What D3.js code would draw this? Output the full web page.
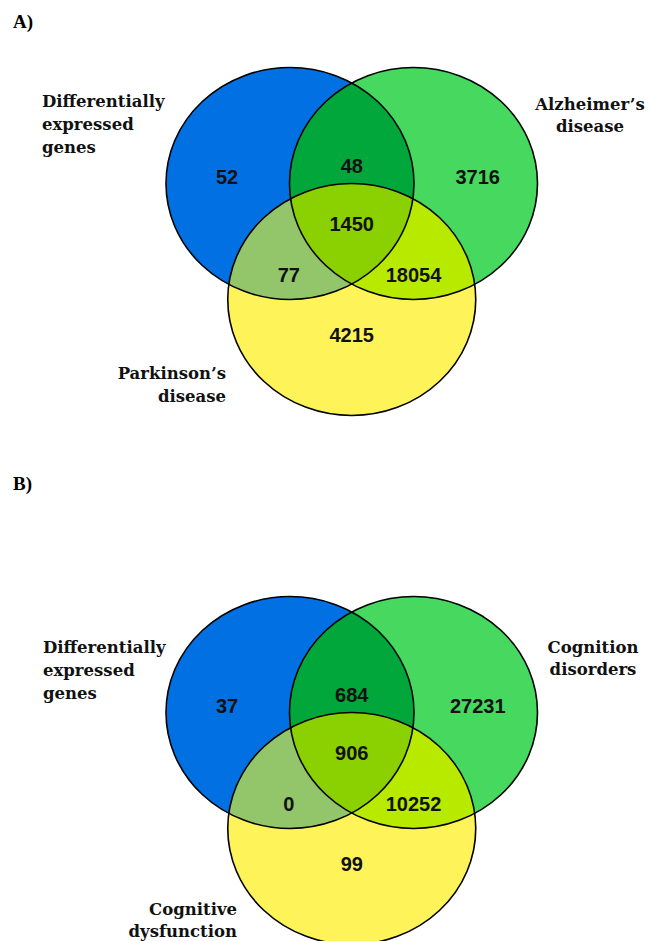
<!DOCTYPE html>
<html>
<head>
<meta charset="utf-8">
<script src="https://cdn.jsdelivr.net/npm/d3@7"></script>
<style>
  body { margin: 0; background: #fff; }
  svg { display: block; }
</style>
</head>
<body>
<svg id="chart"></svg>
<script>
// set names and region counts for both panels
const panelTitles = ["A)", "B)"];
const setNamesA = [["Differentially", "expressed", "genes"], ["Alzheimer’s", "disease"], ["Parkinson’s", "disease"]];
const setNamesB = [["Differentially", "expressed", "genes"], ["Cognition", "disorders"], ["Cognitive", "dysfunction"]];
// region order: only1, 1&2, only2, 1&2&3, 1&3, 2&3, only3
const regionKeys = ["1", "12", "2", "123", "13", "23", "3"];
const countsA = [52, 48, 3716, 1450, 77, 18054, 4215];
const countsB = [37, 684, 27231, 906, 0, 10252, 99];

const W = 649, H = 941;
const svg = d3.select("#chart").attr("width", W).attr("height", H);

// circle fills and overlap fills
const setColors = ["#0170e2", "#46d85f", "#fff35a"];
const overlapColors = { "12": "#01a73b", "13": "#93c56a", "23": "#b8ea00", "123": "#8bd000" };

// venn layout in unit space: centre of set i, and label spot for each region
const centres = [[0, 0], [1, 0], [0.5, 1]];
const spots = { "1": [-0.51, -0.056], "12": [0.5, -0.15], "2": [1.52, -0.056], "123": [0.5, 0.35],
                "13": [-0.01, 0.785], "23": [1.0, 0.785], "3": [0.5, 1.3] };

function drawPanel(g, id, title, titleY, cy, names, counts, labelPos) {
  const x = d3.scaleLinear().domain([0, 1]).range([290, 413.5]);
  const y = d3.scaleLinear().domain([0, 1]).range([cy, cy + 116]);
  const rx = 124, ry = 116;

  g.append("text")
    .attr("x", 13).attr("y", titleY)
    .text(title)
    .style("font-family", "Liberation Serif").style("font-weight", "bold").style("font-size", "19px");

  const defs = g.append("defs");
  centres.forEach((c, i) => {
    defs.append("clipPath").attr("id", `${id}c${i}`)
      .append("ellipse").attr("cx", x(c[0])).attr("cy", y(c[1])).attr("rx", rx).attr("ry", ry);
  });

  const ell = (sel, i) => sel.append("ellipse")
    .attr("cx", x(centres[i][0])).attr("cy", y(centres[i][1])).attr("rx", rx).attr("ry", ry);

  // full circles
  centres.forEach((c, i) => ell(g, i).attr("fill", setColors[i]));
  // pairwise overlaps
  [["12", 0, 1], ["13", 0, 2], ["23", 1, 2]].forEach(([k, a, b]) => {
    ell(g.append("g").attr("clip-path", `url(#${id}c${a})`), b).attr("fill", overlapColors[k]);
  });
  // triple overlap
  ell(g.append("g").attr("clip-path", `url(#${id}c0)`).append("g").attr("clip-path", `url(#${id}c1)`), 2)
    .attr("fill", overlapColors["123"]);
  // outlines
  centres.forEach((c, i) => ell(g, i).attr("fill", "none").attr("stroke", "#000").attr("stroke-width", 1.6));

  // counts
  g.selectAll(".count").data(regionKeys).enter().append("text")
    .attr("class", "count")
    .attr("x", k => x(spots[k][0]))
    .attr("y", k => y(spots[k][1]))
    .attr("dy", "0.36em")
    .attr("text-anchor", "middle")
    .text((k, i) => counts[i])
    .style("font-family", "Liberation Sans").style("font-weight", "bold").style("font-size", "20px")
    .style("fill", "#111");

  // set names
  names.forEach((lines, i) => {
    const p = labelPos[i];
    const t = g.append("text")
      .attr("text-anchor", p.anchor)
      .style("font-family", "DejaVu Serif").style("font-weight", "bold").style("font-size", "16.5px")
      .style("fill", "#111");
    lines.forEach((s, j) => {
      t.append("tspan").attr("x", p.x).attr("y", p.y + j * p.lh).text(s);
    });
  });
}

drawPanel(svg.append("g"), "a", panelTitles[0], 28, 183.5, setNamesA, countsA, [
  { x: 42, y: 107, lh: 23, anchor: "start" },
  { x: 590, y: 110, lh: 22, anchor: "middle" },
  { x: 226, y: 379, lh: 23, anchor: "end" }
]);
drawPanel(svg.append("g"), "b", panelTitles[1], 490, 712.5, setNamesB, countsB, [
  { x: 43, y: 653, lh: 23, anchor: "start" },
  { x: 593, y: 653, lh: 22, anchor: "middle" },
  { x: 237, y: 915, lh: 22, anchor: "end" }
]);
</script>
</body>
</html>
